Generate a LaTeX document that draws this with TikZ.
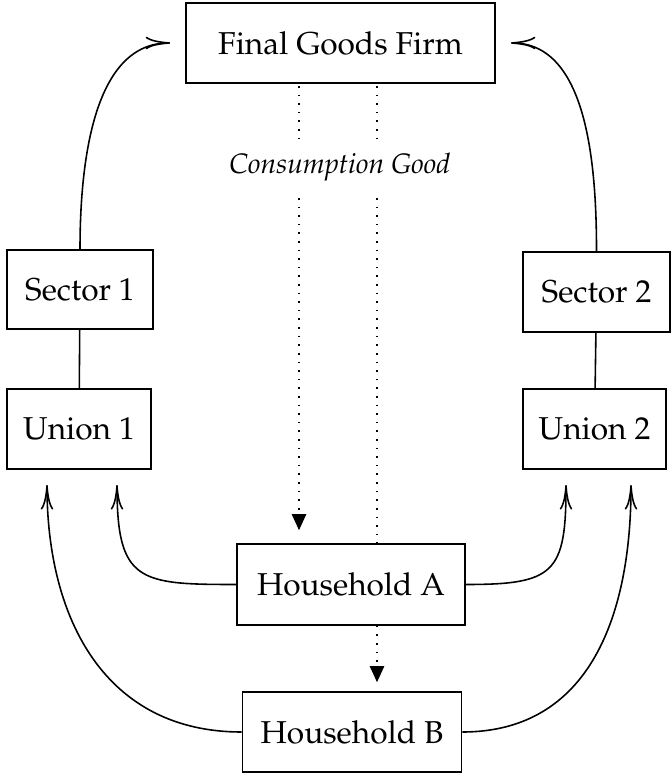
\documentclass[tikz,border=0pt]{standalone}
\usepackage[T1]{fontenc}
\usepackage{mathpazo}
\usetikzlibrary{arrows.meta}

\tikzset{
  box/.style={draw, fill=white, minimum height=0.8cm, font=\small},
  good/.style={dotted, -{Triangle[length=4.6pt,width=4.1pt]}},
}

\begin{document}
\begin{tikzpicture}[auto, line width=0.45pt, >={To[length=7pt,width=3.6pt]}]
\useasboundingbox (0,0) rectangle (6.7,-7.75);

\node[box, minimum width=3.09cm] (firm) at (3.405,-0.43) {Final Goods Firm};

\node[box, minimum width=1.46cm, minimum height=0.79cm] (s1) at (0.80,-2.895) {Sector 1};
\node[box, minimum width=1.44cm] (u1) at (0.79,-4.29) {Union 1};
\node[box, minimum width=1.47cm] (s2) at (5.965,-2.92) {Sector 2};
\node[box, minimum width=1.43cm] (u2) at (5.945,-4.29) {Union 2};

\node[box, minimum width=2.28cm, minimum height=0.81cm] (hA) at (3.51,-5.845) {Household A};
\node[box, minimum width=2.19cm] (hB) at (3.52,-7.32) {Household B};

\coordinate (l0) at (2.99,-0.86);
\coordinate (r0) at (3.77,-0.86);
\coordinate (u1a) at (0.47,-4.85);
\coordinate (u1b) at (1.17,-4.85);
\coordinate (u2a) at (5.66,-4.85);
\coordinate (u2b) at (6.31,-4.85);

% consumption good
\draw[good, shorten >=1.3mm] (l0) -- (l0 |- hA.north);
\draw[dotted] (r0) -- (r0 |- hA.north);
\draw[good, shorten >=0.9mm] (r0 |- hA.south) -- (r0 |- hB.north);

\node[fill=white, inner xsep=1pt, inner ysep=1.3mm, font=\footnotesize\itshape] (cons) at (3.40,-1.67) {Consumption Good};

\path (s1) edge (u1);
\path (s2) edge (u2);

\path[->, shorten >=1.5mm] (s1.north) edge[out=90,in=180] (firm.west);
\path[->, shorten >=1.5mm] (s2.north) edge[out=90,in=0] (firm.east);

\path[->] (hA.west) edge[out=180,in=-90,looseness=1.6] (u1b);
\path[->] (hA.east) edge[out=0,in=-90,looseness=1.6] (u2a);
\path[->] (hB.west) edge[out=180,in=-90,looseness=1.1] (u1a);
\path[->] (hB.east) edge[out=0,in=-90,looseness=1.1] (u2b);

\end{tikzpicture}
\end{document}
